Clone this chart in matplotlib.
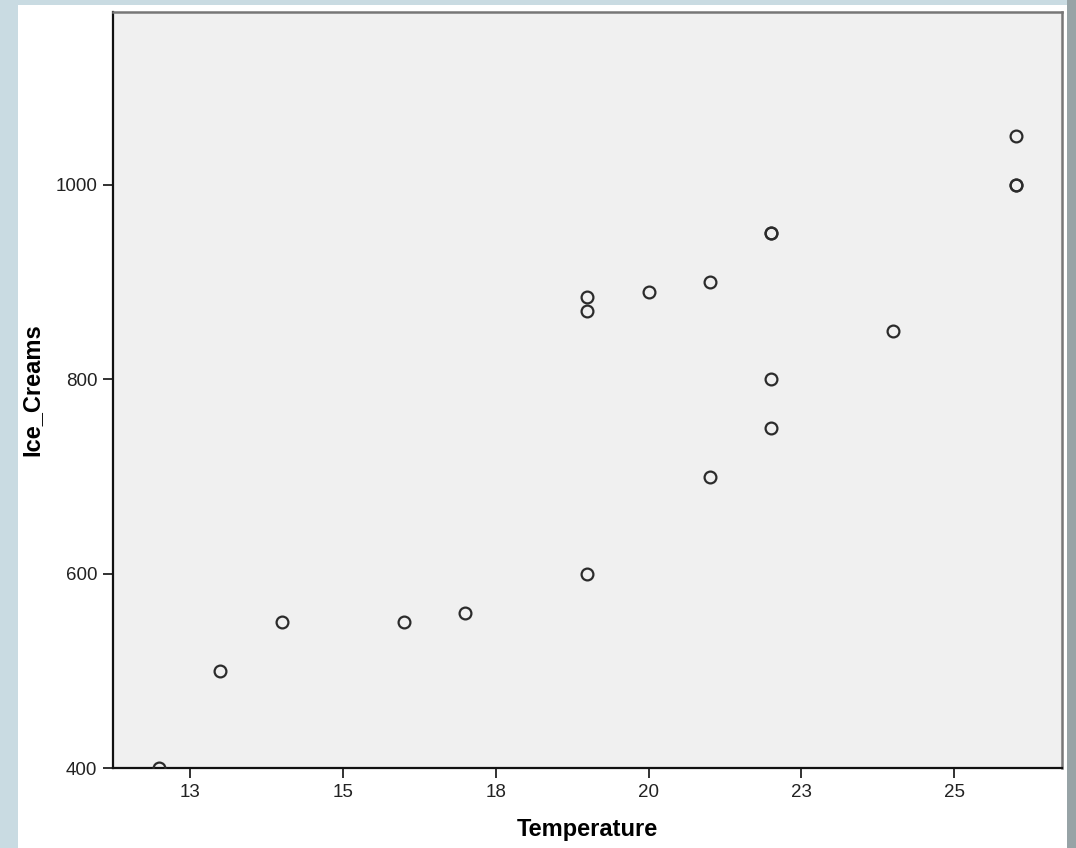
import numpy as np
import matplotlib.pyplot as plt
from matplotlib.patches import Rectangle

# date
temperature = [12, 13, 14, 16, 17, 19, 19, 19, 20, 21, 21, 22, 22, 22, 22, 24, 26, 26, 26]
ice_creams = [400, 500, 550, 550, 560, 600, 870, 885, 890, 900, 700, 950, 950, 800, 750, 850, 1000, 1000, 1050]

x_ticks = [12.5, 15, 17.5, 20, 22.5, 25]
x_tick_labels = ["13", "15", "18", "20", "23", "25"]
y_ticks = [400, 600, 800, 1000]

W, H = 1076, 848
fig = plt.figure(figsize=(W / 100, H / 100), dpi=100)
fig.patch.set_facecolor("#c9dbe2")
# zona alba (fereastra)
fig.add_artist(Rectangle((18 / W, 0), (1067 - 18) / W, 843 / H, transform=fig.transFigure,
                         facecolor="white", edgecolor="none", zorder=-10))
fig.add_artist(Rectangle((1067 / W, 0), 9 / W, 1, transform=fig.transFigure,
                         facecolor="#97a3a6", edgecolor="none", zorder=-10))

ax = fig.add_axes([112.7 / W, 1 - 768.3 / H, (1062 - 112.7) / W, (768.3 - 11.7) / H])
ax.set_zorder(5)
ax.set_facecolor("#f0f0f0")

ax.plot(temperature, ice_creams, linestyle="none", marker="o", markersize=8.5,
        markerfacecolor="none", markeredgecolor="#2b2b2b", markeredgewidth=1.6,
        zorder=3)

ax.set_xlim(11.24, 26.76)
ax.set_ylim(400, 1178)
ax.set_xticks(x_ticks)
ax.set_xticklabels(x_tick_labels)
ax.set_yticks(y_ticks)

font = "Liberation Sans"
for lab in ax.get_xticklabels() + ax.get_yticklabels():
    lab.set_fontfamily(font)
    lab.set_fontsize(13.5)
    lab.set_color("#222222")

ax.tick_params(axis="both", direction="out", length=7, width=1.3, color="#222222", pad=4)

for s in ["left", "bottom"]:
    ax.spines[s].set_color("#111111")
    ax.spines[s].set_linewidth(1.6)
for s in ["top", "right"]:
    ax.spines[s].set_color("#777777")
    ax.spines[s].set_linewidth(1.8)

ax.set_xlabel("Temperature", fontfamily=font, fontsize=17, fontweight="bold")
ax.set_ylabel("Ice_Creams", fontfamily=font, fontsize=17, fontweight="bold")
ax.xaxis.set_label_coords(0.5, -0.0815)
ax.yaxis.set_label_coords(-0.085, 0.5)
ax.xaxis.label.set_va("center")
ax.yaxis.label.set_va("center")

fig.savefig("out.png", dpi=100, facecolor=fig.get_facecolor())
